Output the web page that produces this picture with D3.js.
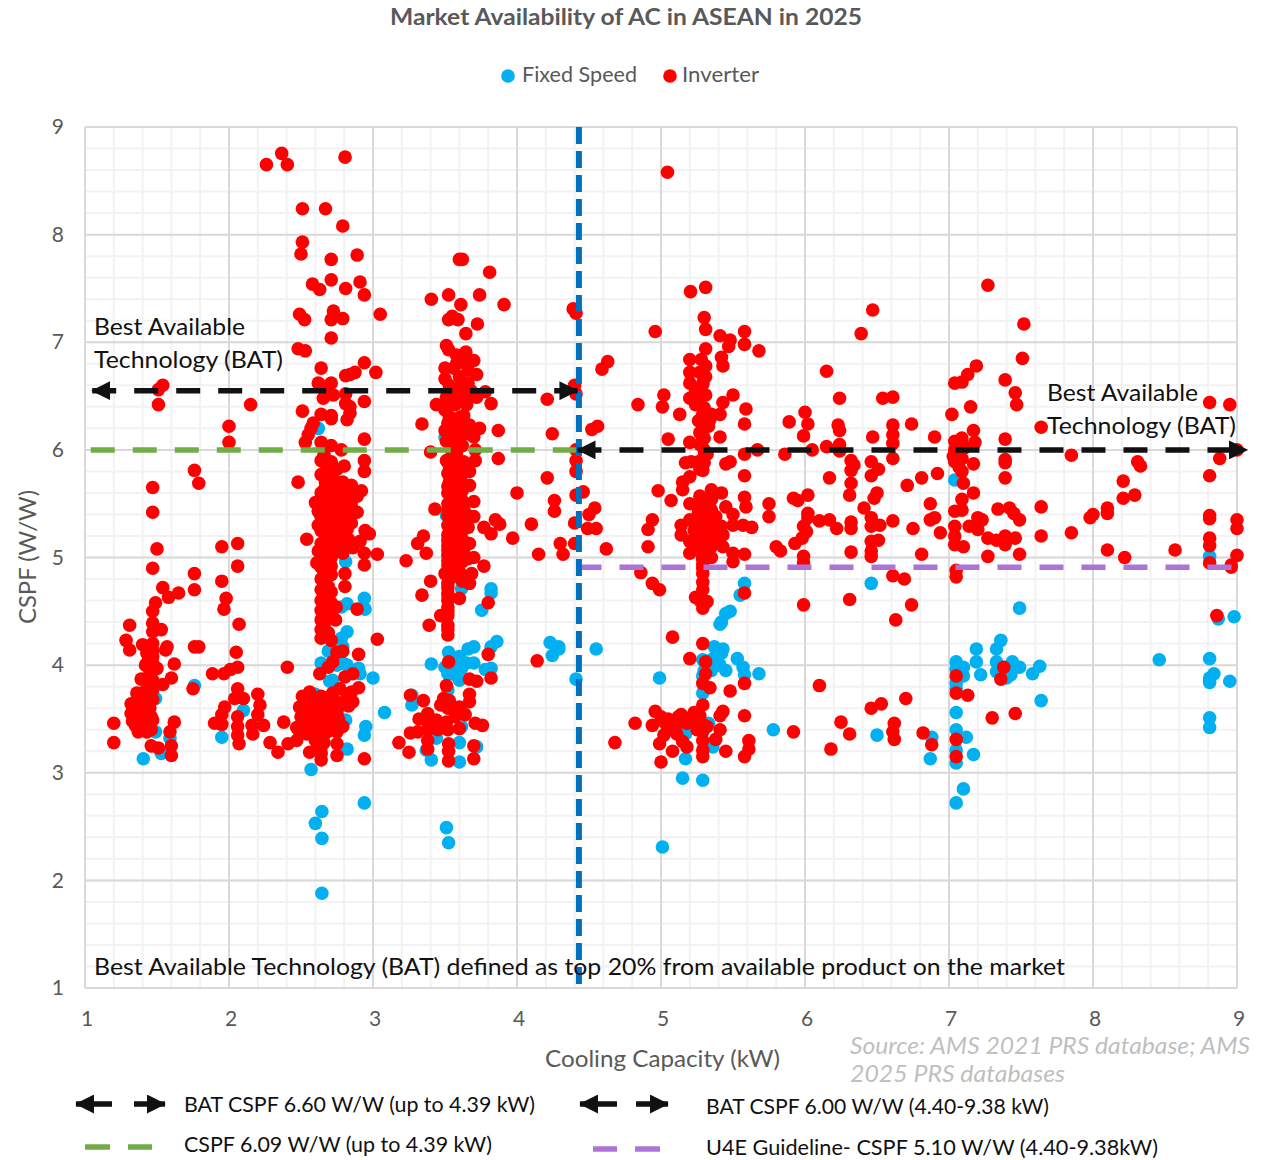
<!DOCTYPE html>
<html><head><meta charset="utf-8">
<script src="https://cdn.jsdelivr.net/npm/d3@7"></script>
<style>html,body{margin:0;padding:0;background:#fff}svg{display:block}text{font-family:Lato,"Open Sans",sans-serif}</style>
</head><body><svg id="c" width="1278" height="1160"></svg>
<script>
const fixedSpeed = [[2.645,1.88],[3.51,2.49],[3.525,2.35],[2.645,2.64],[2.6,2.53],[2.645,2.39],[2.94,2.72],[2.57,3.03],[1.405,3.13],[1.53,3.18],[1.59,3.32],[1.49,3.38],[1.49,3.69],[1.76,3.81],[1.95,3.33],[2.1,3.58],[2.94,3.35],[2.95,3.43],[2.82,3.22],[2.81,3.49],[3.08,3.56],[3.0,3.88],[2.9,3.97],[2.91,3.92],[2.79,4.02],[2.64,4.02],[2.72,3.86],[2.69,4.13],[2.82,4.31],[2.78,4.25],[2.79,4.17],[2.82,4.57],[2.78,4.54],[2.94,4.62],[2.945,4.52],[2.81,4.96],[2.63,5.41],[3.27,3.63],[3.27,3.72],[3.405,4.01],[3.405,3.12],[3.37,3.21],[3.6,3.1],[3.6,3.28],[3.72,3.24],[3.615,3.43],[3.44,3.32],[3.52,3.77],[3.525,4.12],[3.56,3.98],[3.6,4.08],[3.65,4.02],[3.7,4.02],[3.52,3.92],[3.57,3.91],[3.6,3.86],[3.615,3.97],[3.66,4.15],[3.7,4.17],[3.82,4.17],[3.86,4.22],[3.78,3.96],[3.82,3.97],[3.5,3.98],[3.82,4.71],[3.82,4.67],[3.755,4.51],[3.615,4.71],[3.51,5.39],[3.52,4.64],[4.23,4.21],[4.29,4.17],[4.245,4.09],[4.29,4.15],[4.41,3.87],[2.62,6.2],[3.5,6.12],[2.6,3.73],[2.7,3.85],[2.75,4.0],[2.82,4.0],[3.55,4.05],[3.62,4.02],[3.55,3.95],
[5.01,2.31],[5.15,2.95],[5.29,2.93],[5.17,3.13],[7.1,2.85],[7.05,2.72],[6.87,3.13],[7.17,3.17],[7.05,3.09],[7.05,3.21],[7.05,3.4],[7.12,3.33],[7.05,3.56],[6.88,3.33],[6.5,3.35],[5.78,3.4],[5.36,3.24],[5.17,3.36],[5.33,3.46],[7.64,3.67],[8.81,3.51],[8.81,3.42],[4.99,3.88],[4.55,4.15],[5.29,3.74],[5.3,3.95],[5.29,4.05],[5.37,4.17],[5.43,4.15],[5.42,4.11],[5.41,4.0],[5.45,3.95],[5.53,4.06],[5.57,3.98],[5.58,3.91],[5.68,3.92],[5.41,4.38],[5.42,4.4],[5.45,4.48],[5.48,4.5],[5.55,4.65],[5.58,4.76],[6.46,4.76],[7.49,4.53],[8.87,4.43],[8.98,4.45],[8.46,4.05],[8.81,4.06],[8.84,3.92],[8.81,3.88],[8.81,3.84],[8.95,3.85],[7.05,4.03],[7.1,3.98],[7.05,3.96],[7.1,3.9],[7.05,3.83],[7.05,3.78],[7.19,4.15],[7.19,4.03],[7.22,3.91],[7.36,4.23],[7.33,4.15],[7.33,4.03],[7.33,3.94],[7.44,4.03],[7.43,3.91],[7.4,3.88],[7.49,3.98],[7.58,3.92],[7.63,3.99],[7.04,5.72],[8.81,5.01],[5.35,4.05],[5.35,3.95],[5.29,3.9],[5.38,4.08],[7.38,3.98]];

const inverterLow = [[2.366,8.755],[2.26,8.65],[2.405,8.65],[2.806,8.72],[2.51,8.24],[2.67,8.24],[2.79,8.08],[2.51,7.93],[2.5,7.82],[2.71,7.77],[2.89,7.81],[3.6,7.77],[3.62,7.77],[3.81,7.65],[2.58,7.54],[2.71,7.58],[2.63,7.49],[2.81,7.5],[2.91,7.56],[2.94,7.44],[3.405,7.4],[3.525,7.44],[3.74,7.44],[3.61,7.35],[3.91,7.35],[2.49,7.26],[2.525,7.21],[2.725,7.29],[2.71,7.21],[2.79,7.22],[3.05,7.26],[3.525,7.21],[3.55,7.24],[3.59,7.21],[3.725,7.17],[3.645,7.08],[4.39,7.31],[4.41,7.27],[2.71,7.04],[2.48,6.94],[2.53,6.92],[3.51,6.97],[3.525,6.93],[3.645,6.91],[3.58,6.88],[2.94,6.81],[2.64,6.76],[3.02,6.72],[2.875,6.72],[2.81,6.69],[2.84,6.7],[2.62,6.62],[2.71,6.62],[2.67,6.59],[3.7,6.83],[3.58,6.8],[3.63,6.82],[3.5,6.76],[3.56,6.76],[3.66,6.74],[3.72,6.7],[3.5,6.66],[3.6,6.68],[1.54,6.6],[1.51,6.56],[1.51,6.42],[2.15,6.42],[2.0,6.22],[2.0,6.07],[4.4,6.6],[4.41,6.52],[4.21,6.47],[4.245,6.15],[3.34,6.24],[3.87,6.18],[2.81,6.52],[2.81,6.43],[2.84,6.4],[2.84,6.34],[2.82,6.28],[2.94,6.45],[2.94,6.1],[2.655,6.48],[2.725,6.51],[2.51,6.36],[2.64,6.33],[2.71,6.32],[2.71,6.29],[2.585,6.25],[2.57,6.2],[2.55,6.14],[2.53,6.07],[2.64,6.07],[2.71,6.04],[2.78,6.0],[3.44,6.42],[3.51,6.49],[3.58,6.49],[3.66,6.47],[3.72,6.49],[3.78,6.54],[3.82,6.43],[3.5,6.37],[3.63,6.32],[3.53,6.31],[3.67,6.23],[3.74,6.2],[3.66,6.15],[3.5,6.18],[3.56,6.14],[3.51,6.08],[3.58,6.08],[3.4,5.98],[3.58,5.97],[3.71,6.0],[3.87,5.92],
[1.76,5.81],[1.79,5.69],[1.47,5.65],[1.47,5.42],[1.5,5.08],[1.47,4.9],[1.95,5.1],[2.06,5.13],[2.06,4.92],[1.95,4.78],[1.76,4.85],[1.76,4.7],[1.98,4.62],[1.965,4.52],[2.07,4.38],[1.54,4.72],[1.58,4.63],[1.65,4.67],[1.49,4.58],[1.47,4.5],[1.31,4.37],[1.285,4.23],[1.31,4.14],[1.47,4.39],[1.47,4.31],[1.53,4.33],[1.4,4.19],[1.47,4.2],[1.57,4.17],[1.56,4.14],[1.43,4.11],[1.47,4.08],[1.42,4.0],[1.5,3.97],[1.62,4.01],[1.45,3.92],[1.6,3.88],[1.39,3.87],[1.47,3.86],[1.54,3.82],[1.76,4.17],[1.79,4.17],[1.75,3.78],[1.47,3.77],[1.38,3.71],[1.44,3.67],[1.32,3.64],[1.38,3.63],[1.45,3.6],[1.32,3.55],[1.39,3.54],[1.46,3.52],[1.35,3.44],[1.42,3.46],[1.47,3.49],[1.46,3.4],[1.4,3.43],[1.2,3.46],[1.2,3.28],[1.62,3.47],[1.59,3.38],[1.46,3.25],[1.51,3.23],[1.6,3.25],[1.6,3.16],[2.05,4.12],[2.06,3.98],[2.01,3.96],[1.965,3.92],[1.885,3.92],[2.06,3.78],[2.1,3.69],[2.04,3.69],[1.97,3.61],[1.95,3.54],[1.9,3.46],[1.95,3.45],[2.06,3.52],[2.06,3.43],[2.06,3.35],[2.07,3.27],[2.2,3.73],[2.215,3.63],[2.2,3.54],[2.16,3.44],[2.24,3.44],[2.165,3.36],[2.405,3.98],[2.38,3.47],[2.285,3.28],[2.34,3.19],[2.41,3.27],[2.47,3.3],[2.49,3.38],[2.505,3.46],[2.49,3.61],[2.51,3.71],[2.56,3.75],[2.56,3.61],[2.56,3.52],[2.54,3.36],[2.56,3.19],[2.64,3.12],[2.75,3.16],[2.75,3.27],[2.64,3.71],[2.64,3.61],[2.64,3.52],[2.64,3.43],[2.64,3.33],[2.64,3.24],[2.72,3.74],[2.72,3.61],[2.71,3.49],[2.79,3.43],[2.77,3.78],[2.82,3.71],[2.85,3.75],[2.9,3.79],[2.79,3.63],[2.75,3.55],[2.94,3.13],[2.805,3.89],[2.86,3.92],[2.63,3.92],[2.69,3.98],[2.72,4.03],[2.79,4.13],[2.75,4.12],[2.9,4.1],[2.71,4.23],[3.03,4.24],[2.64,4.25],[2.64,4.33],[2.64,4.42],[2.64,4.51],[2.64,4.6],[2.64,4.7],[2.74,4.42],[2.745,4.54],[2.89,4.52],[2.805,4.85],[2.805,4.73],[2.94,4.93],[2.94,5.04],[3.03,5.03],[2.945,5.25],[2.975,5.22],[2.91,5.15],[2.86,5.09],[2.66,4.82],[2.48,5.7],[2.54,5.17],[2.6,5.51],
[2.64,5.9],[2.71,5.89],[2.8,5.85],[2.94,5.9],[2.94,5.8],[2.64,5.77],[2.71,5.75],[2.79,5.7],[2.85,5.67],[2.71,5.66],[2.78,5.63],[2.92,5.62],[2.64,5.6],[2.71,5.56],[2.78,5.53],[2.85,5.52],[2.64,5.5],[2.71,5.47],[2.78,5.44],[2.85,5.47],[2.64,5.38],[2.71,5.35],[2.78,5.33],[2.85,5.32],[2.64,5.25],[2.71,5.22],[2.78,5.21],[2.64,5.13],[2.71,5.1],[2.79,5.1],[2.64,5.0],[2.71,5.0],[2.79,5.04],[2.64,4.91],[2.69,4.95],[2.64,4.8],[2.69,4.63],[2.69,4.73],[2.69,4.51],
[3.71,5.9],[3.57,5.94],[3.51,5.9],[3.63,5.89],[3.67,5.8],[3.52,5.78],[4.21,5.74],[4.0,5.6],[3.59,5.7],[3.53,5.7],[3.63,5.67],[3.67,5.67],[3.52,5.6],[3.59,5.58],[3.52,5.5],[3.59,5.49],[3.7,5.52],[3.43,5.45],[3.52,5.39],[3.59,5.39],[3.66,5.39],[3.7,5.38],[3.52,5.3],[3.59,5.3],[3.66,5.28],[3.52,5.21],[3.59,5.21],[3.67,5.13],[3.52,5.11],[3.59,5.1],[3.52,5.02],[3.59,5.01],[3.7,5.0],[3.66,4.99],[3.58,4.93],[3.52,4.93],[3.77,4.92],[3.5,4.85],[3.685,4.85],[3.52,4.76],[3.62,4.78],[3.67,4.76],[3.77,5.28],[3.82,5.22],[3.85,5.35],[3.88,5.31],[3.97,5.18],[4.1,5.31],[4.15,5.03],[4.3,5.13],[4.26,5.53],[4.26,5.43],[4.32,5.03],[3.35,5.2],[3.31,5.13],[3.37,5.04],[3.23,4.97],[3.4,4.78],[3.34,4.65],[3.52,4.67],[3.6,4.62],[3.8,4.58],[3.52,4.54],[3.47,4.46],[3.52,4.46],[3.39,4.37],[3.52,4.37],[3.52,4.28],[3.525,4.03],[3.8,4.1],[3.82,3.88],[3.67,3.87],[3.72,3.85],[3.51,3.81],[4.14,4.04],[3.26,3.72],[3.35,3.67],[3.49,3.69],[3.53,3.67],[3.47,3.63],[3.52,3.6],[3.67,3.73],[3.67,3.66],[3.6,3.61],[3.64,3.54],[3.57,3.52],[3.38,3.55],[3.32,3.5],[3.44,3.49],[3.38,3.47],[3.51,3.47],[3.6,3.41],[3.71,3.46],[3.76,3.44],[3.26,3.37],[3.31,3.38],[3.38,3.4],[3.45,3.4],[3.52,3.4],[3.18,3.28],[3.25,3.19],[3.38,3.3],[3.38,3.22],[3.525,3.27],[3.525,3.2],[3.525,3.11],[3.7,3.25],[3.7,3.13],[4.41,6.0],[4.41,5.9],[4.41,5.8]];

const inverterDense = [[2.66,5.96],[2.68,5.83],[2.75,5.82],[2.67,5.7],[2.75,5.7],[2.82,5.64],[2.66,5.63],[2.74,5.6],[2.89,5.57],[2.68,5.55],[2.82,5.57],[2.68,5.43],[2.74,5.52],[2.82,5.42],[2.89,5.42],[2.68,5.31],[2.75,5.41],[2.75,5.28],[2.82,5.26],[2.67,5.18],[2.75,5.16],[2.83,5.17],[2.68,5.06],[2.75,5.06],[2.82,5.12],[2.67,4.96],[2.71,4.92],[2.66,4.86],[2.71,4.84],[2.66,4.74],[2.71,4.68],[2.66,4.66],[2.71,4.58],[2.66,4.56],[2.71,4.47],[2.67,4.46],[2.66,4.37],[2.69,4.3],[2.62,5.06],[2.62,5.3],[2.62,5.43],[2.61,4.95],
[3.55,5.97],[3.53,5.85],[3.59,5.83],[3.55,5.74],[3.61,5.75],[3.55,5.64],[3.62,5.62],[3.55,5.54],[3.62,5.53],[3.55,5.45],[3.63,5.46],[3.55,5.35],[3.63,5.33],[3.55,5.26],[3.62,5.25],[3.55,5.16],[3.62,5.17],[3.55,5.06],[3.63,5.07],[3.56,4.97],[3.62,4.96],[3.55,4.88],[3.6,4.87],[3.55,4.82],[3.52,5.66],[3.52,5.45],[3.52,5.16],[3.52,5.07],[3.52,4.97],[3.52,4.82],[3.52,4.72],[3.52,4.6],[3.52,4.5],[3.52,4.33],
[3.53,6.6],[3.6,6.58],[3.66,6.62],[3.55,6.52],[3.62,6.5],[3.68,6.55],[3.52,6.44],[3.57,6.42],[3.65,6.42],[3.55,6.25],[3.6,6.22],[3.52,6.25],[3.6,6.3],[3.55,6.03],[3.62,6.04],[3.6,6.12],[3.54,6.2],[3.7,6.12],
[1.36,3.74],[1.41,3.75],[1.36,3.62],[1.41,3.6],[1.36,3.5],[1.41,3.52],[1.37,3.55],[1.43,3.55],[1.33,3.48],[1.38,3.48],[1.45,3.44],[1.44,3.74],[1.47,3.68],[1.43,3.46],[1.37,3.38],[1.43,3.38],[1.44,4.15],[1.44,4.05],[1.47,4.14],[1.47,4.02],[1.45,3.8],[1.47,3.95],
[2.6,3.66],[2.6,3.56],[2.6,3.46],[2.6,3.38],[2.6,3.3],[2.58,3.68],[2.52,3.55],[2.53,3.42],[2.68,3.68],[2.68,3.58],[2.68,3.48],[2.68,3.38],[2.69,3.7],[2.66,3.28],[2.76,3.65],[2.76,3.5],[2.76,3.45],[2.72,3.55],[2.72,3.45],[2.83,3.62],[2.86,3.66],[2.47,3.42],[2.5,3.52],[2.64,3.18],[2.61,3.22],[2.75,3.38],
[5.27,5.35],[5.3,5.25],[5.23,5.25],[5.32,5.15],[5.25,5.15],[5.32,5.42],[5.38,5.25],[5.38,5.38],[5.26,5.42],[5.35,5.55],[5.3,5.52],[5.38,5.17],[5.33,5.05],[5.24,5.1],[5.29,5.0],[5.29,4.98],[5.29,4.9],[5.27,6.05],[5.3,6.0],[5.27,6.16],[5.3,5.88],[5.32,5.96],[5.27,5.82],[5.29,6.1],[5.34,6.28],[5.26,6.27],[5.24,6.55],[5.24,6.42],[5.27,6.72],[5.27,6.5],[5.29,6.62],[5.12,3.52],[5.2,3.5],[5.05,3.4],[5.25,3.4],[5.03,3.46],[5.1,3.44],[5.23,3.56],[5.29,3.45],[5.29,3.38],[7.07,6.04],[7.07,5.96],[7.05,5.96],[7.09,6.06],[7.07,5.84],[7.03,5.94]];

const inverterHigh = [[5.045,8.58],[7.27,7.53],[5.205,7.47],[5.31,7.51],[5.3,7.23],[5.31,7.12],[5.41,7.06],[5.58,7.1],[4.96,7.1],[5.48,7.02],[5.47,6.96],[5.58,6.98],[5.68,6.92],[5.31,6.94],[6.47,7.3],[6.39,7.08],[7.52,7.17],[7.51,6.85],[5.2,6.84],[5.28,6.84],[5.42,6.86],[5.43,6.78],[4.63,6.82],[4.59,6.75],[5.2,6.72],[5.31,6.78],[5.31,6.68],[5.2,6.62],[5.29,6.61],[6.15,6.73],[7.19,6.78],[7.13,6.7],[7.09,6.63],[7.04,6.62],[7.39,6.65],[7.46,6.53],[7.47,6.42],[5.02,6.51],[5.01,6.4],[4.84,6.42],[5.2,6.48],[5.31,6.51],[5.5,6.51],[5.43,6.44],[5.59,6.38],[5.13,6.33],[5.3,6.39],[5.29,6.33],[5.35,6.33],[5.41,6.33],[6.24,6.48],[6.54,6.48],[6.61,6.49],[7.15,6.4],[7.02,6.33],[5.58,6.24],[5.89,6.26],[6.0,6.35],[6.02,6.24],[5.99,6.13],[6.23,6.23],[6.24,6.18],[6.61,6.23],[6.61,6.14],[6.61,6.06],[6.74,6.24],[7.64,6.21],[8.81,6.44],[8.95,6.42],[4.56,6.22],[4.52,6.19],[5.29,6.2],[5.33,6.22],[5.41,6.12],[5.05,6.1],[5.2,6.07],[5.3,6.11],[6.9,6.12],[6.47,6.12],[7.39,6.1],[7.17,6.18],[7.09,6.11],[7.04,6.08],[7.18,6.07],[7.04,6.0],[7.11,6.02],[6.15,6.03],[6.24,6.05],[6.24,5.99],[6.05,6.0],[5.67,6.0],[5.58,5.96],[5.86,5.96],[7.85,5.95],[9.0,6.0],[8.88,5.92],[6.61,5.92],[6.46,5.89],[6.32,5.9],[6.34,5.86],[6.32,5.81],[6.51,5.82],[6.46,5.76],[6.32,5.69],[6.31,5.58],[6.17,5.74],[5.3,5.94],[5.26,5.89],[5.17,5.88],[5.21,5.89],[5.48,5.89],[5.45,5.87],[5.29,5.81],[5.58,5.76],[5.2,5.75],[5.15,5.7],[5.15,5.63],[7.04,5.89],[7.09,5.92],[7.17,5.87],[7.09,5.8],[7.39,5.91],[7.39,5.88],[7.39,5.74],[7.1,5.69],[6.92,5.78],[6.81,5.74],[6.71,5.67],[8.81,5.76],[8.31,5.89],[8.33,5.85],[8.21,5.71],[8.21,5.55],[8.29,5.58],[8.1,5.46],[8.1,5.41],[8.0,5.4],[7.98,5.37],[4.98,5.62],[5.07,5.53],[4.46,5.61],[4.41,5.58],[5.35,5.63],[5.42,5.6],[5.27,5.57],[5.35,5.54],[5.2,5.5],[5.58,5.56],[5.59,5.47],[5.45,5.47],[5.75,5.5],[5.75,5.38],[5.27,5.47],[5.35,5.44],[5.5,5.4],[5.2,5.35],[5.3,5.37],[5.14,5.3],[5.24,5.29],[5.35,5.3],[5.42,5.29],[5.5,5.3],[5.57,5.3],[5.63,5.28],[5.14,5.21],[5.24,5.2],[5.35,5.2],[5.43,5.21],[5.2,5.15],[5.27,5.1],[5.35,5.1],[5.43,5.1],[5.5,5.04],[5.2,5.04],[5.29,5.01],[5.35,5.0],[5.58,5.03],[5.5,4.96],[4.54,5.46],[4.5,5.4],[4.49,5.27],[4.55,5.27],[4.4,5.32],[4.4,5.13],[4.62,5.08],[4.94,5.35],[4.91,5.26],[4.91,5.1],[6.02,5.58],[5.92,5.55],[5.95,5.53],[6.02,5.41],[6.02,5.37],[6.1,5.34],[6.17,5.35],[5.99,5.29],[6.22,5.27],[6.01,5.24],[6.32,5.33],[6.32,5.27],[5.98,5.18],[5.93,5.13],[5.8,5.1],[5.83,5.06],[5.99,5.01],[5.99,4.95],[6.32,5.05],[6.41,5.46],[6.5,5.6],[6.48,5.55],[6.46,5.37],[6.46,5.29],[6.52,5.3],[6.61,5.34],[6.75,5.27],[6.46,5.15],[6.51,5.16],[6.46,5.06],[6.46,5.01],[6.81,5.03],[6.87,5.5],[6.9,5.37],[6.87,5.35],[6.94,5.23],[7.04,5.43],[7.09,5.54],[7.17,5.6],[7.09,5.44],[7.04,5.29],[7.04,5.2],[7.04,5.12],[7.1,5.1],[7.2,5.37],[7.23,5.35],[7.14,5.29],[7.2,5.26],[7.27,5.18],[7.33,5.16],[7.39,5.2],[7.39,5.12],[7.46,5.18],[7.27,5.01],[7.49,5.03],[7.34,5.45],[7.42,5.46],[7.45,5.41],[7.49,5.35],[7.64,5.47],[7.64,5.2],[7.85,5.23],[8.1,5.07],[8.22,5.0],[8.57,5.07],[8.81,5.39],[8.81,5.36],[9.0,5.35],[9.0,5.27],[8.81,5.18],[8.81,5.11],[9.0,5.02],[8.96,4.91],[8.81,4.95],
[4.86,4.86],[4.94,4.76],[4.99,4.7],[5.29,4.94],[5.29,4.85],[5.29,4.77],[5.29,4.7],[5.24,4.63],[5.32,4.59],[5.29,4.53],[5.27,4.6],[5.58,4.67],[5.99,4.56],[6.31,4.61],[6.74,4.56],[6.63,4.42],[6.61,4.83],[6.69,4.8],[7.05,4.88],[7.05,4.82],[8.96,4.93],[8.86,4.46],[5.08,4.26],[5.29,4.2],[5.2,4.06],[5.31,4.03],[5.31,3.92],[5.29,3.83],[5.34,3.79],[5.58,3.83],[5.48,3.76],[6.1,3.81],[7.05,3.9],[7.05,3.74],[7.13,3.72],[7.38,3.98],[7.36,3.87],[6.7,3.69],[6.53,3.64],[6.46,3.6],[7.46,3.55],[7.3,3.51],[5.58,3.53],[5.43,3.57],[5.41,3.53],[5.29,3.63],[4.96,3.57],[5.0,3.52],[4.94,3.44],[5.05,3.5],[5.14,3.54],[5.27,3.53],[5.05,3.44],[5.12,3.46],[5.18,3.46],[5.26,3.46],[5.32,3.43],[4.82,3.46],[6.25,3.47],[6.62,3.46],[6.61,3.38],[6.31,3.36],[5.92,3.38],[5.41,3.4],[5.38,3.31],[5.02,3.35],[4.99,3.27],[5.11,3.36],[5.15,3.29],[5.18,3.24],[5.08,3.2],[4.68,3.28],[5.29,3.3],[5.29,3.21],[5.29,3.15],[5.45,3.2],[5.61,3.3],[5.61,3.22],[5.58,3.15],[5.0,3.1],[6.62,3.31],[6.82,3.37],[6.88,3.26],[6.18,3.22],[7.05,3.31],[7.05,3.15]];

const xTicks = [1,2,3,4,5,6,7,8,9];
const yTicks = [1,2,3,4,5,6,7,8,9];
const xMinor = d3.range(1,9.01,0.2);
const yMinor = d3.range(1,9.01,0.2);
const batLow = {x:[1.05,4.42], y:6.55};
const greenLine = {x:[1.04,4.42], y:6.0};
const batHigh = {x:[4.42,9.07], y:6.0};
const u4eLine = {x:[4.42,9.0], y:4.91};
const divider = 4.43;

const W=1278, H=1160, L=85, R=1237, T=127, B=988;
const svg=d3.select('#c');
const x=d3.scaleLinear().domain([1,9]).range([L,R]);
const y=d3.scaleLinear().domain([1,9]).range([B,T]);

svg.append('defs').append('marker').attr('id','ah').attr('viewBox','0 0 10 10').attr('refX',9.5).attr('refY',5)
  .attr('markerUnits','userSpaceOnUse').attr('markerWidth',19).attr('markerHeight',19).attr('orient','auto-start-reverse')
  .append('path').attr('d','M0,0L10,5L0,10Z').attr('fill','#111');

const grid=svg.append('g');
grid.selectAll('.mx').data(xMinor).join('line').attr('x1',d=>x(d)).attr('x2',d=>x(d)).attr('y1',T).attr('y2',B).attr('stroke','#f2f2f2').attr('stroke-width',2);
grid.selectAll('.my').data(yMinor).join('line').attr('y1',d=>y(d)).attr('y2',d=>y(d)).attr('x1',L).attr('x2',R).attr('stroke','#f2f2f2').attr('stroke-width',2);
grid.selectAll('.jx').data(xTicks).join('line').attr('x1',d=>x(d)).attr('x2',d=>x(d)).attr('y1',T).attr('y2',B).attr('stroke','#d9d9d9').attr('stroke-width',2);
grid.selectAll('.jy').data(yTicks).join('line').attr('y1',d=>y(d)).attr('y2',d=>y(d)).attr('x1',L).attr('x2',R).attr('stroke','#d9d9d9').attr('stroke-width',2);

const dot=(g,d,c)=>g.selectAll('circle').data(d).join('circle').attr('cx',p=>x(p[0])).attr('cy',p=>y(p[1])).attr('r',6.8).attr('fill',c);
dot(svg.append('g'),fixedSpeed,'#00b0f0');
dot(svg.append('g'),inverterLow.concat(inverterDense,inverterHigh),'#ff0000');

const dash='24 18';
svg.append('line').attr('x1',x(greenLine.x[0])).attr('x2',x(greenLine.x[1])).attr('y1',y(greenLine.y)).attr('y2',y(greenLine.y)).attr('stroke','#70ad47').attr('stroke-width',5.5).attr('stroke-dasharray',dash);
svg.append('line').attr('x1',x(u4eLine.x[0])).attr('x2',x(u4eLine.x[1])).attr('y1',y(u4eLine.y)).attr('y2',y(u4eLine.y)).attr('stroke','#ab74d6').attr('stroke-width',5.5).attr('stroke-dasharray',dash);
svg.append('line').attr('x1',x(divider)).attr('x2',x(divider)).attr('y1',T).attr('y2',B).attr('stroke','#0070c0').attr('stroke-width',6).attr('stroke-dasharray','17 7');
for(const l of [batLow,batHigh]){
  svg.append('line').attr('x1',x(l.x[0])).attr('x2',x(l.x[1])).attr('y1',y(l.y)).attr('y2',y(l.y)).attr('stroke','#111').attr('stroke-width',5.5).attr('stroke-dasharray',dash)
   .attr('marker-start','url(#ah)').attr('marker-end','url(#ah)');
}

const grey='#595959';
const txt=(s,px,py,size,fill,opt={})=>{const t=svg.append('text').attr('x',px).attr('y',py).attr('font-size',size).attr('fill',fill).text(s);
  if(opt.anchor)t.attr('text-anchor',opt.anchor);if(opt.weight)t.attr('font-weight',opt.weight);if(opt.style)t.attr('font-style',opt.style);if(opt.rot)t.attr('transform',`rotate(${opt.rot} ${px} ${py})`);if(opt.len)t.attr('textLength',opt.len).attr('lengthAdjust','spacingAndGlyphs');return t;};

const xAxis=svg.append('g').attr('transform',`translate(1.5,${B+31})`).call(d3.axisBottom(x).tickValues(xTicks).tickSize(0).tickFormat(d3.format('d')));
xAxis.select('.domain').remove();
xAxis.selectAll('text').attr('font-size',21).attr('fill',grey).attr('font-family','Lato').attr('dy','0.32em').attr('y',0);
const yAxis=svg.append('g').attr('transform',`translate(${L-21},0)`).call(d3.axisLeft(y).tickValues(yTicks).tickSize(0).tickFormat(d3.format('d')));
yAxis.select('.domain').remove();
yAxis.selectAll('text').attr('font-size',21).attr('fill',grey).attr('font-family','Lato').attr('x',0);

txt('Market Availability of AC in ASEAN in 2025',390,25,22,grey,{weight:700,len:472});
txt('Fixed Speed',522,82,22,grey,{len:115});
txt('Inverter',682,82,22,grey,{len:77});
svg.append('circle').attr('cx',508).attr('cy',76).attr('r',6.8).attr('fill','#00b0f0');
svg.append('circle').attr('cx',670).attr('cy',76).attr('r',6.8).attr('fill','#ff0000');
txt('CSPF (W/W)',36,624,23,grey,{rot:-90,len:134});
txt('Cooling Capacity (kW)',545,1067,23,grey,{len:235});
txt('Best Available',94,335,24,'#111',{len:151});
txt('Technology (BAT)',94,368,24,'#111',{len:189});
txt('Best Available',1047,401,24,'#111',{len:151});
txt('Technology (BAT)',1047,434,24,'#111',{len:189});
txt('Best Available Technology (BAT) defined as top 20% from available product on the market',94,975,24,'#111',{len:971});
txt('Source: AMS 2021 PRS database; AMS',850,1054,24,'#bfbfbf',{style:'italic',len:400});
txt('2025 PRS databases',850,1082,24,'#bfbfbf',{style:'italic',len:215});
txt('BAT CSPF 6.60 W/W (up to 4.39 kW)',184,1112,22,'#111',{len:351});
txt('CSPF 6.09 W/W (up to 4.39 kW)',184,1152,22,'#111',{len:308});
txt('BAT CSPF 6.00 W/W (4.40-9.38 kW)',706,1114,22,'#111',{len:343});
txt('U4E Guideline-  CSPF 5.10 W/W (4.40-9.38kW)',706,1155,21,'#111',{len:452});

const key=(x1,x2,yy,c,w)=>svg.append('line').attr('x1',x1).attr('x2',x2).attr('y1',yy).attr('y2',yy).attr('stroke',c).attr('stroke-width',w);
const arrowKey=(a,b,yy)=>svg.append('line').attr('x1',a).attr('x2',b).attr('y1',yy).attr('y2',yy).attr('stroke','#111').attr('stroke-width',5.5).attr('marker-end','url(#ah)');
arrowKey(112,76,1104);arrowKey(134,165,1104);arrowKey(617,580,1104);arrowKey(636,668,1104);
key(85,110,1147,'#70ad47',5.5);key(128,152,1147,'#70ad47',5.5);
key(593,617,1149,'#ab74d6',5.5);key(635,660,1149,'#ab74d6',5.5);
</script></body></html>
